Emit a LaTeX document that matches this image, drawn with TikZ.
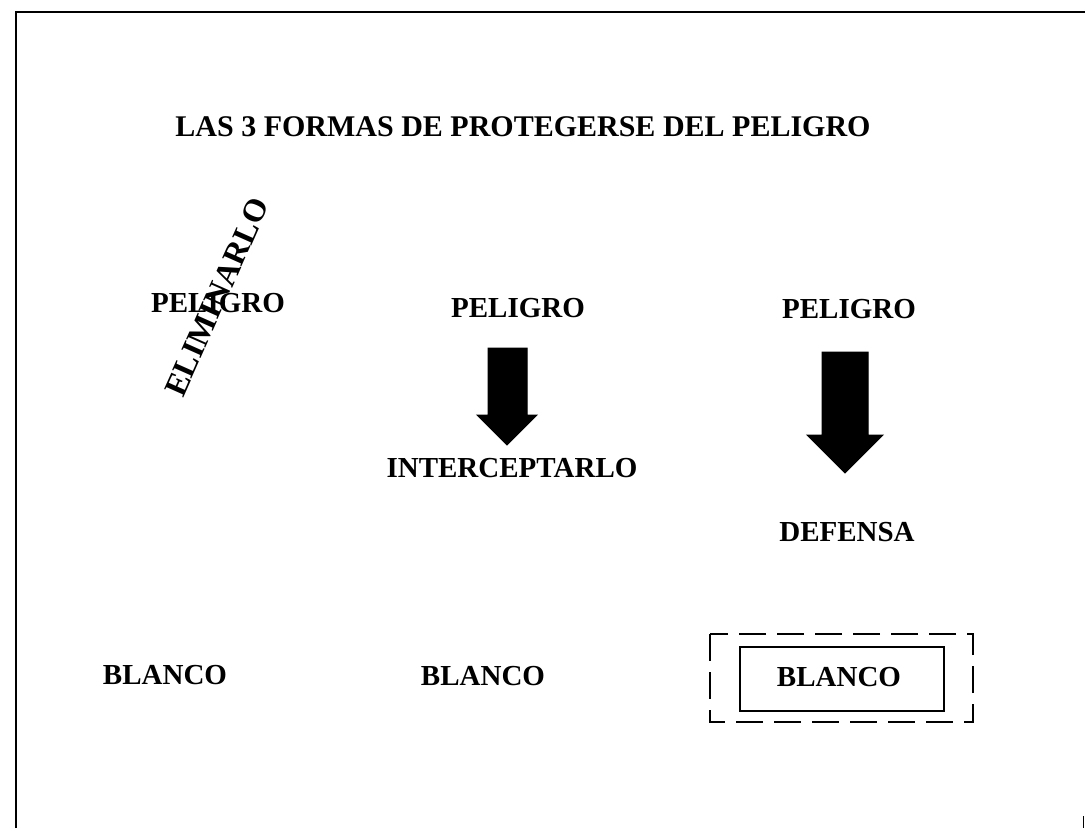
\documentclass[tikz,border=0pt]{standalone}
\usepackage{fontspec}
\setmainfont{Liberation Serif}
\usepackage{tikz}

\tikzset{
  lbl/.style={font=\fontsize{29}{31}\selectfont\bfseries, inner sep=0pt},
  blockarrow/.style={fill=black, draw=black, line width=1pt}
}

\begin{document}
\begin{tikzpicture}[x=1pt,y=-1pt]
\useasboundingbox (0,0) rectangle (1085,828);
\begin{scope}[line width=2pt]
% frame
\draw (16,828) -- (16,12) -- (1085,12);
\draw[line width=1pt] (1083,816) -- (1083,828);

\node[lbl, font=\fontsize{30}{32}\selectfont\bfseries] (title) at (523,127) {LAS 3 FORMAS DE PROTEGERSE DEL PELIGRO};

% first column
\node[lbl] (pel1) at (218,303) {PELIGRO};
\node[lbl, font=\fontsize{32}{34}\selectfont\bfseries, rotate=66] (elim) at (217,297) {ELIMINARLO};
\node[lbl] (bla1) at (165,675) {BLANCO};

% second column
\node[lbl] (pel2) at (518,308) {PELIGRO};
\filldraw[blockarrow] (488,348) -- (527,348) -- (527,415) -- (537,415) -- (507,445)
  -- (477,415) -- (488,415) -- cycle;
\node[lbl] (inter) at (512,468) {INTERCEPTARLO};
\node[lbl] (bla2) at (483,676) {BLANCO};

% third column
\node[lbl] (pel3) at (849,309) {PELIGRO};
\filldraw[blockarrow] (822,352) -- (868,352) -- (868,435) -- (883,435) -- (845,473)
  -- (807,435) -- (822,435) -- cycle;
\node[lbl] (def) at (847,532) {DEFENSA};
\node[lbl] (bla3) at (839,677) {BLANCO};
\draw[line width=1.5pt] (740,647) rectangle (944,711);
\draw[dash pattern=on 27pt off 11pt] (710,634) rectangle (973,722);
\end{scope}
\end{tikzpicture}
\end{document}
